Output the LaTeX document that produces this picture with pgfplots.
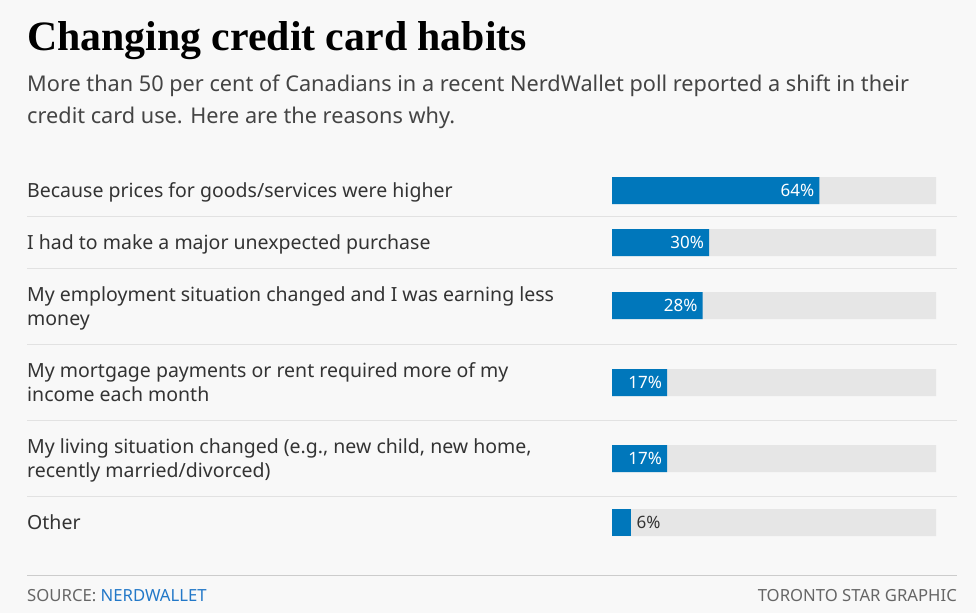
\documentclass[border=0pt]{standalone}
\usepackage{pgfplots}
\pgfplotsset{compat=1.18}
\usepackage{fontspec}
\setmainfont{Noto Sans}
\newfontfamily\titlefont{Liberation Serif}
\definecolor{bg}{HTML}{F8F8F8}
\definecolor{barblue}{HTML}{0077BB}
\definecolor{track}{HTML}{E6E6E6}
\definecolor{txt}{HTML}{333333}
\definecolor{subc}{HTML}{444444}
\definecolor{sep}{HTML}{E2E2E2}
\definecolor{rulec}{HTML}{CCCCCC}
\definecolor{foot}{HTML}{666666}
\definecolor{linkc}{HTML}{2278C8}
\begin{document}
\begin{tikzpicture}
\fill[bg] (0pt,0pt) rectangle (976pt,-613pt);
\begin{scope}[x=1pt,y=-1pt]
\node[anchor=base west, inner sep=0pt, font=\titlefont\bfseries\fontsize{41.8}{41.8}\selectfont, text=black] at (27,50) {Changing credit card habits};
\begin{scope}[every node/.style={anchor=base west, inner sep=0pt, font=\fontsize{21.7}{21.7}\selectfont, text=subc}]
\node at (27,91) {More than 50 per cent of Canadians in a recent NerdWallet poll reported a shift in their};
\node at (27,123) {credit card use. Here are the reasons why.};
\end{scope}
\begin{scope}[every node/.style={anchor=base west, inner sep=0pt, font=\fontsize{19.5}{19.5}\selectfont, text=txt}]
\node at (27,197.5) {Because prices for goods/services were higher};
\node at (27,249.5) {I had to make a major unexpected purchase};
\node at (27,301.5) {My employment situation changed and I was earning less};
\node at (27,325.5) {money};
\node at (27,377.5) {My mortgage payments or rent required more of my};
\node at (27,401.5) {income each month};
\node at (27,453.5) {My living situation changed (e.g., new child, new home,};
\node at (27,477.5) {recently married/divorced)};
\node at (27,529.5) {Other};
\end{scope}
\foreach \yy in {216,268,344,420,496} {\draw[sep, line width=1pt] (27,\yy) -- (957,\yy);}
\draw[rulec, line width=1pt] (27,575) -- (957,575);
\node[anchor=base west, inner sep=0pt, font=\fontsize{16.7}{16.7}\selectfont] at (27,601.5) {\textcolor{foot}{SOURCE: }\textcolor{linkc}{NERDWALLET}};
\node[anchor=base east, inner sep=0pt, font=\fontsize{16.7}{16.7}\selectfont, text=foot] at (957,601.5) {TORONTO STAR GRAPHIC};
\end{scope}
\begin{axis}[at={(0pt,-613pt)}, anchor=south west, scale only axis, width=976pt, height=613pt,
  xmin=-188.8889, xmax=112.3457, ymin=-613, ymax=0, hide axis, clip=false, xbar,
  /pgf/number format/assume math mode=true]
\addplot[fill=track, draw=none, bar shift=0pt, bar width=27pt] coordinates {(100,-190.5) (100,-242.5) (100,-305.5) (100,-382.5) (100,-458.5) (100,-522.5)};
\addplot[fill=barblue, draw=none, bar shift=0pt, bar width=27pt, point meta=x,
  nodes near coords={\pgfmathprintnumber{\pgfplotspointmeta}\%},
  every node near coord/.append style={anchor=east, text=white, font=\fontsize{17}{17}\selectfont, xshift=-2pt, inner sep=3pt}]
  coordinates {(64,-190.5) (30,-242.5) (28,-305.5) (17,-382.5) (17,-458.5)};
\addplot[fill=barblue, draw=none, bar shift=0pt, bar width=27pt, point meta=x,
  nodes near coords={\pgfmathprintnumber{\pgfplotspointmeta}\%},
  every node near coord/.append style={anchor=west, text=txt, font=\fontsize{17}{17}\selectfont, xshift=2pt, inner sep=3pt}]
  coordinates {(6,-522.5)};
\end{axis}
\end{tikzpicture}
\end{document}
